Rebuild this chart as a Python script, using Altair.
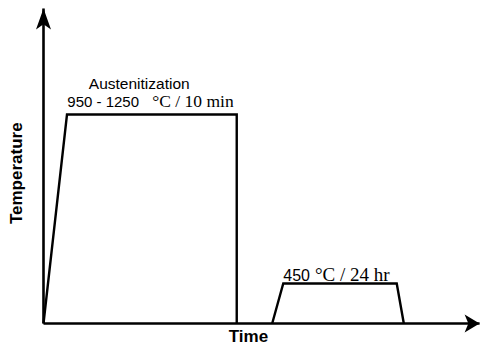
import altair as alt
import pandas as pd

# Axis extent (arbitrary time / temperature units)
axis_time = [0, 98.4]
axis_temp = [0, 100]

# Heat-treatment profile: austenitization, then aging
austen_time = [0, 5.3, 43.6, 43.6]
austen_temp = [0, 66.35, 66.35, 0]
aging_time = [51.6, 54.1, 79.7, 81.3]
aging_temp = [0, 12.7, 12.7, 0]

# Annotation texts
label_text = ["Austenitization", "950 - 1250", "°C / 10 min", "450", "°C / 24 hr", "Time", "Temperature"]
label_time = [21.6, 5.37, 24.55, 54.1, 61.26, 46.25, -4.96]
label_temp = [74.35, 68.7, 68.7, 13.5, 13.5, -5.9, 47.7]
label_kind = ["sans_c", "sans_l", "serif", "sans_l2", "serif2", "bold", "bold_v"]

xs = alt.Scale(domain=[0, 100], range=[35.5, 478.7])
ys = alt.Scale(domain=[0, 100], range=[315.5, 0.5])

prof = pd.DataFrame({
    "t": austen_time + aging_time,
    "T": austen_temp + aging_temp,
    "seg": ["a"] * len(austen_time) + ["b"] * len(aging_time),
    "o": list(range(len(austen_time))) + list(range(len(aging_time))),
})

axes = pd.DataFrame({
    "t": [axis_time[0], axis_time[0]],
    "T": [axis_temp[0], axis_temp[0]],
    "t2": [axis_time[1], axis_time[0]],
    "T2": [axis_temp[0], axis_temp[1]],
})

labels = pd.DataFrame({"txt": label_text, "t": label_time, "T": label_temp, "kind": label_kind})

X = alt.X("t:Q", scale=xs, axis=None)
Y = alt.Y("T:Q", scale=ys, axis=None)

axis_lines = alt.Chart(axes).mark_rule(color="black", strokeWidth=2.6).encode(
    x=X, y=Y, x2="t2:Q", y2="T2:Q"
)

profile = alt.Chart(prof).mark_line(color="black", strokeWidth=2.4).encode(
    x=X, y=Y, detail="seg:N", order="o:Q"
)

arrow_right = alt.Chart(pd.DataFrame({"t": [axis_time[1]], "T": [axis_temp[0]]})).mark_point(
    shape="M0,0 L-2,-1.2 L-1.5,0 L-2,1.2 Z", size=225, filled=True, color="black", opacity=1, strokeWidth=0
).encode(x=X, y=Y)

arrow_up = alt.Chart(pd.DataFrame({"t": [axis_time[0]], "T": [axis_temp[1]]})).mark_point(
    shape="M0,0 L-1,2.8 L0,2.1 L1,2.8 Z", size=225, filled=True, color="black", opacity=1, strokeWidth=0
).encode(x=X, y=Y)

base_t = alt.Chart(labels)

def txt(kind, **kw):
    return base_t.transform_filter(alt.datum.kind == kind).mark_text(color="black", baseline="alphabetic", **kw).encode(
        x=X, y=Y, text="txt:N"
    )

t1 = txt("sans_c", font="Liberation Sans", fontSize=15.5, align="center")
t2 = txt("sans_l", font="Liberation Sans", fontSize=15, align="left")
t3 = txt("serif", font="Liberation Serif", fontSize=17.5, align="left")
t2b = txt("sans_l2", font="Liberation Sans", fontSize=16, align="left")
t3b = txt("serif2", font="Liberation Serif", fontSize=19, align="left")
t4 = txt("bold", font="Liberation Sans", fontSize=17, fontWeight="bold", align="center")
t5 = txt("bold_v", font="Liberation Sans", fontSize=17, fontWeight="bold", align="center", angle=270)

chart = alt.layer(axis_lines, profile, arrow_right, arrow_up, t1, t2, t3, t2b, t3b, t4, t5).properties(
    width=472, height=338, autosize=alt.AutoSizeParams(type="none"), padding=0
).configure_view(stroke=None)

chart.save("out.html", embed_options={"renderer": "svg", "actions": False})
